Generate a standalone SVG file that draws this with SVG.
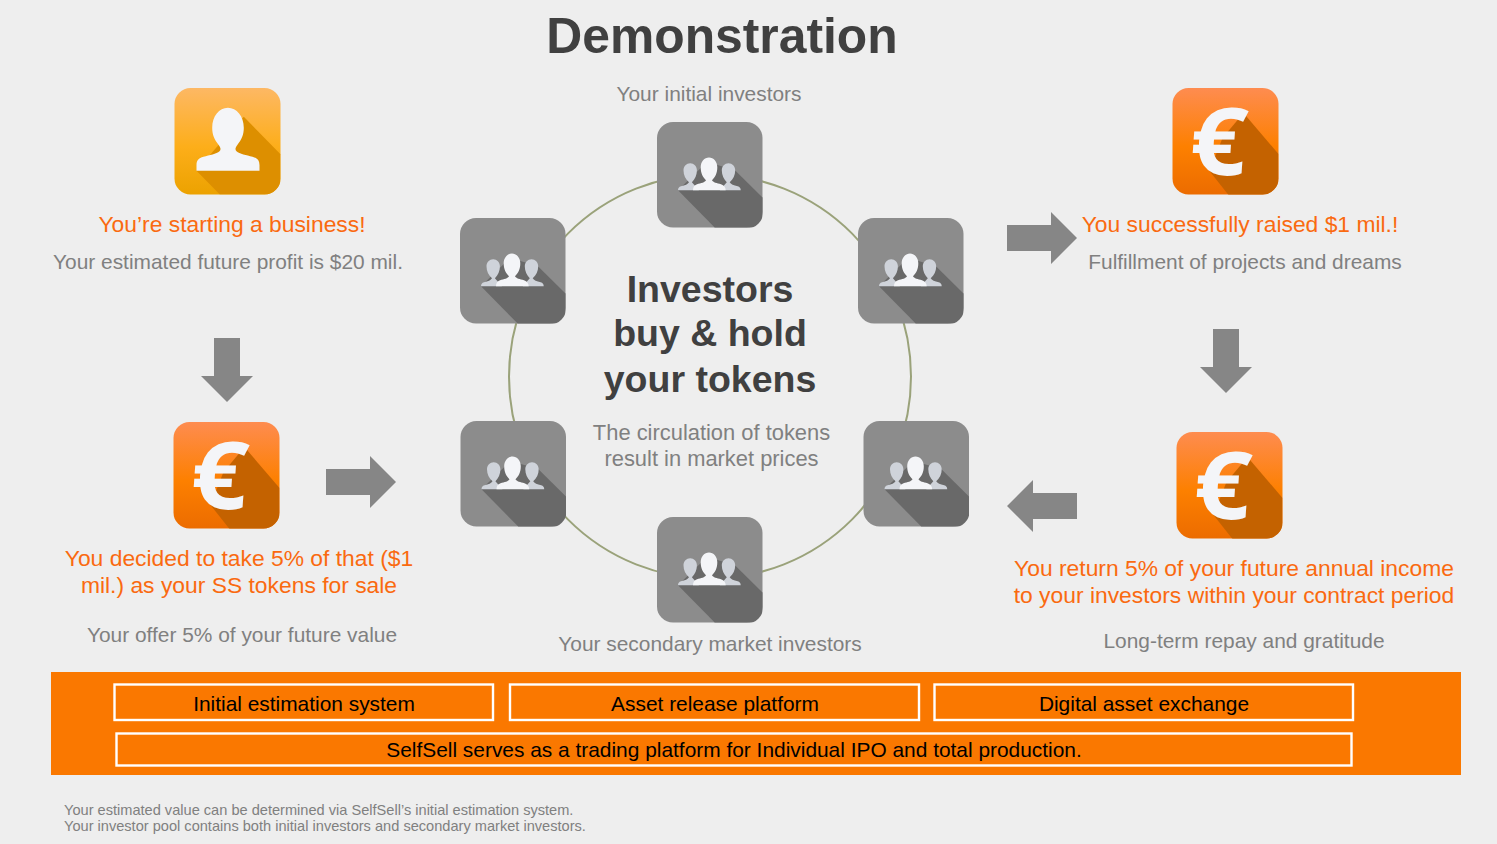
<svg xmlns="http://www.w3.org/2000/svg" width="1497" height="844" viewBox="0 0 1497 844">
<style>
text{font-family:"Liberation Sans",Arial,sans-serif;text-anchor:middle}
.h{fill:#fa6a10;font-size:22.85px}
.g{fill:#808080;font-size:20.9px}
.g2{fill:#808080;font-size:21.9px}
.c{fill:#404040;font-size:37.500px;font-weight:700}
.b{fill:#000;font-size:20.9px}
.n{fill:#808080;font-size:14.600px;text-anchor:start}
.box{fill:none;stroke:#fff;stroke-width:2.400}
.arrow{fill:#868686}
.eu{font-family:"Open Sans","Liberation Sans",sans-serif;font-size:94px;font-weight:700;fill:#f4f5f8}
.w{fill:#f4f5f8}.s{fill:#cfd3da}
</style>
<defs>
<linearGradient id="gy" x1="0" y1="0" x2="0" y2="1"><stop offset="0" stop-color="#fdb864"/><stop offset=".55" stop-color="#fdae1a"/><stop offset="1" stop-color="#eca200"/></linearGradient>
<linearGradient id="go" x1="0" y1="0" x2="0" y2="1"><stop offset="0" stop-color="#fe8c50"/><stop offset=".55" stop-color="#fd8000"/><stop offset="1" stop-color="#ec6c00"/></linearGradient>
<clipPath id="rc"><rect width="106" height="106.500" rx="16"/></clipPath>
<g id="euroIcon">
<rect width="106" height="106.500" rx="16" fill="url(#go)"/>
<polygon clip-path="url(#rc)" points="71,25 106,66 106,107 56,107 37,83 50,50" fill="#c46200"/>
<text class="eu" transform="translate(44,87) skewX(-4) scale(1.060,1)">€</text>
</g>
<g id="groupIcon">
<rect width="105.500" height="105.500" rx="16" fill="#8c8c8c"/>
<polygon clip-path="url(#rc)" points="21,68.300 57.700,105.500 105.500,105.500 105.500,75.600 77.700,48 50,40" fill="#696969"/>
<path class="s" d="M21 68.300c0-2 1-3.500 3-4c4-1 7-2 8-4c-3.500-3-5.500-7-5.500-12c0-4 3-7 6.700-7s6.700 3 6.700 7c0 5-2 9-5 12l7 8z"/>
<path class="s" d="M83.700 68.300c0-2-1-3.500-3-4c-4-1-7-2-8-4c3.500-3 5.500-7 5.500-12c0-4-3-7-6.700-7s-6.700 3-6.700 7c0 5 2 9 5 12l-7 8z"/>
<path class="w" d="M36 68.300c0-3 1-5 4-6c4-1 8-2 9-4c-3-3-5.300-7-5.300-13c0-5.500 3.700-9.700 8.300-9.700s8.300 4.200 8.300 9.700c0 6-2.300 10-5.300 13c1 2 5 3 9 4c3 1 4.700 3 4.700 6z"/>
</g>
</defs>
<rect width="1497" height="844" fill="#eeeeee"/>
<text id="title" x="722" y="53" style="font-size:49.800px;font-weight:700;fill:#404040">Demonstration</text>

<g id="connectors">
<ellipse cx="710" cy="376.500" rx="201" ry="202" fill="none" stroke="#9aa27a" stroke-width="2"/>
<polygon class="arrow" points="214,338 240,338 240,376 253,376 227,402 201,376 214,376"/>
<polygon class="arrow" points="326,469 370,469 370,456 396,482 370,508 370,495 326,495"/>
<polygon class="arrow" points="1007,225 1051,225 1051,212 1077,238 1051,264 1051,251 1007,251"/>
<polygon class="arrow" points="1213,329 1239,329 1239,367 1252,367 1226,393 1200,367 1213,367"/>
<polygon class="arrow" points="1077,493 1033,493 1033,480 1007,506 1033,532 1033,519 1077,519"/>
</g>

<g id="node-start">
<g transform="translate(174.500,88)">
<rect width="106" height="106.500" rx="16" fill="url(#gy)"/>
<polygon clip-path="url(#rc)" points="22,82.700 45.300,106.500 106,106.500 106,66.300 69.300,28.700 50,50" fill="#dd8f00"/>
<path class="w" d="M22 82.700v-5.500c0-5 2-7 7-8.500c6-1.500 13-3 16-5.500c1.500-1.500 1.500-3-1-6.500c-4-5-6.300-10-6.300-17c0-11.500 7-20 15.700-20s15.900 8.500 15.900 20c0 7-2.300 12-6.300 17c-2.500 3.500-2.500 5-1 6.500c3 2.500 10 4 16 5.500c5 1.500 7 3.500 7 8.500v5.500z"/>
</g>
<text class="h" x="232" y="232">You’re starting a business!</text>
<text class="g" x="228" y="269">Your estimated future profit is $20 mil.</text>
</g>

<g id="node-offer">
<use href="#euroIcon" x="173.500" y="422"/>
<text class="h" x="239" y="566">You decided to take 5% of that ($1</text>
<text class="h" x="239" y="593">mil.) as your SS tokens for sale</text>
<text class="g" x="242" y="642">Your offer 5% of your future value</text>
</g>

<g id="node-raised">
<use href="#euroIcon" x="1172.500" y="88"/>
<text class="h" x="1240" y="232">You successfully raised $1 mil.!</text>
<text class="g" x="1245" y="269">Fulfillment of projects and dreams</text>
</g>

<g id="node-return">
<use href="#euroIcon" x="1176.500" y="432"/>
<text class="h" x="1234" y="576">You return 5% of your future annual income</text>
<text class="h" x="1234" y="603">to your investors within your contract period</text>
<text class="g" x="1244" y="648">Long-term repay and gratitude</text>
</g>

<g id="node-investors-top">
<use href="#groupIcon" x="657" y="122"/>
<text class="g" x="709" y="101">Your initial investors</text>
</g>
<g id="node-investors-ul"><use href="#groupIcon" x="460" y="218"/></g>
<g id="node-investors-ur"><use href="#groupIcon" x="858" y="218"/></g>
<g id="node-investors-ll"><use href="#groupIcon" x="460.500" y="421"/></g>
<g id="node-investors-lr"><use href="#groupIcon" x="863.500" y="421"/></g>
<g id="node-investors-bottom">
<use href="#groupIcon" x="657" y="517"/>
<text class="g" x="710" y="651">Your secondary market investors</text>
</g>

<g id="node-center">
<text class="c" x="710" y="302">Investors</text>
<text class="c" x="710" y="346">buy &amp; hold</text>
<text class="c" x="710" y="392">your tokens</text>
<text class="g2" x="711.500" y="440">The circulation of tokens</text>
<text class="g2" x="711.500" y="465.500">result in market prices</text>
</g>

<g id="platform">
<rect x="51" y="672" width="1410" height="103" fill="#fa7800"/>
<g id="box-estimation"><rect class="box" x="114.500" y="684.500" width="378.500" height="35.500"/><text class="b" x="304" y="711">Initial estimation system</text></g>
<g id="box-release"><rect class="box" x="510" y="684.500" width="409" height="35.500"/><text class="b" x="715" y="711">Asset release platform</text></g>
<g id="box-exchange"><rect class="box" x="934.500" y="684.500" width="418.500" height="35.500"/><text class="b" x="1144" y="711">Digital asset exchange</text></g>
<g id="box-trading"><rect class="box" x="116.500" y="733.500" width="1235" height="32"/><text class="b" x="734" y="757">SelfSell serves as a trading platform for Individual IPO and total production.</text></g>
</g>

<g id="notes">
<text class="n" x="64" y="815">Your estimated value can be determined via SelfSell’s initial estimation system.</text>
<text class="n" x="64" y="831">Your investor pool contains both initial investors and secondary market investors.</text>
</g>
</svg>
